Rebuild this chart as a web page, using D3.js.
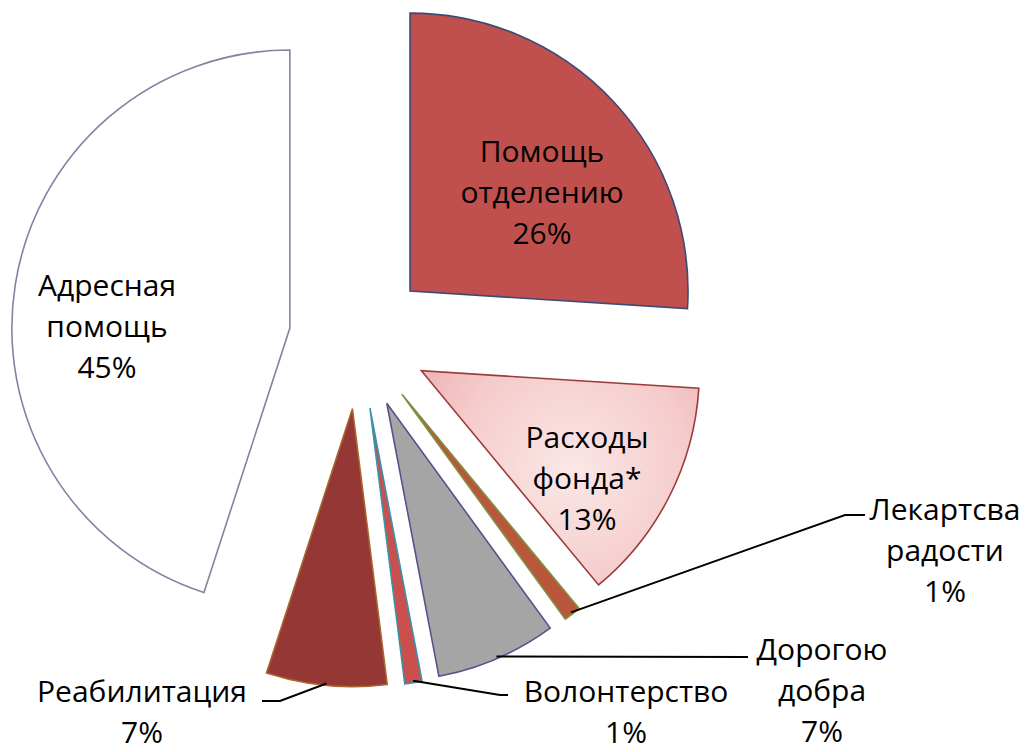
<!DOCTYPE html>
<html lang="ru">
<head>
<meta charset="UTF-8" />
<title>Pie</title>
<script src="https://d3js.org/d3.v7.min.js"></script>
<style>
  html, body { margin: 0; padding: 0; background: #fff; }
  text { font-family: "Open Sans", sans-serif; font-size: 30px; fill: #000; }
</style>
</head>
<body>
<svg id="chart" width="1029" height="752"></svg>
<script>
// Data
const categories = ["Помощь отделению", "Расходы фонда*", "Лекартсва радости", "Дорогою добра", "Волонтерство", "Реабилитация", "Адресная помощь"];
const values = [26, 13, 1, 7, 1, 7, 45];
const labelLines = [
  ["Помощь", "отделению", "26%"],
  ["Расходы", "фонда*", "13%"],
  ["Лекартсва", "радости", "1%"],
  ["Дорогою", "добра", "7%"],
  ["Волонтерство", "1%"],
  ["Реабилитация", "7%"],
  ["Адресная", "помощь", "45%"]
];

// Styles
const fills = ["#c0504d", "url(#pinkGrad)", "#b9573c", "#a5a5a5", "#c9504d", "#953735", "#ffffff"];
const strokes = ["#3b4a78", "#9b3b3b", "#7f9140", "#5e4f8c", "#3a93aa", "#a8652e", "#7d85a2"];

// Layout
const CX = 359, CY = 339, R = 278, EXPLODE = 70, LINE_H = 41;
// label anchor: [x, first baseline]
const labelPos = [[542, 162], [587, 448], [945, 520], [822, 660], [626, 702], [142, 702], [107, 296]];
// leader line points after the arc start (null = label inside slice)
const leaders = [null, null, [[845, 515], [865, 515]], [[748, 657]], [[500, 695], [508, 695]], [[280, 701], [262, 701]], null];

const svg = d3.select("#chart");

// gradient in the slice's own coordinates (apex = 0,0)
const defs = svg.append("defs");
const grad = defs.append("radialGradient")
  .attr("id", "pinkGrad")
  .attr("gradientUnits", "userSpaceOnUse")
  .attr("cx", 150).attr("cy", 100).attr("r", 210);
grad.append("stop").attr("offset", "0%").attr("stop-color", "#fbe7e7");
grad.append("stop").attr("offset", "55%").attr("stop-color", "#f5cccc");
grad.append("stop").attr("offset", "100%").attr("stop-color", "#eba9a9");

const pie = d3.pie().sort(null).startAngle(0).endAngle(2 * Math.PI);
const arcs = pie(values);
const arc = d3.arc().innerRadius(0).outerRadius(R);

const g = svg.append("g").attr("transform", `translate(${CX},${CY})`);

const mid = (d) => (d.startAngle + d.endAngle) / 2;
const off = (d, r) => [Math.sin(mid(d)) * r, -Math.cos(mid(d)) * r];

g.selectAll(".slice")
  .data(arcs)
  .enter()
  .append("path")
  .classed("slice", true)
  .attr("d", arc)
  .attr("transform", (d) => `translate(${off(d, EXPLODE)})`)
  .attr("fill", (d, i) => fills[i])
  .attr("stroke", (d, i) => strokes[i])
  .attr("stroke-width", 1.6)
  .attr("stroke-linejoin", "miter");

// Leader lines
const line = d3.line();
arcs.forEach((d, i) => {
  if (!leaders[i]) return;
  const s = off(d, EXPLODE + R - 2);
  const pts = [[CX + s[0], CY + s[1]]].concat(leaders[i]);
  svg.append("path")
    .attr("d", line(pts))
    .attr("fill", "none")
    .attr("stroke", "#000")
    .attr("stroke-width", 2);
});

// Labels
const labels = svg.selectAll(".label")
  .data(categories)
  .enter()
  .append("text")
  .classed("label", true)
  .attr("text-anchor", "middle")
  .attr("x", (d, i) => labelPos[i][0])
  .attr("y", (d, i) => labelPos[i][1]);

labels.each(function (d, i) {
  const t = d3.select(this);
  labelLines[i].forEach((s, k) => {
    t.append("tspan")
      .attr("x", labelPos[i][0])
      .attr("y", labelPos[i][1] + k * LINE_H)
      .text(s);
  });
});
</script>
</body>
</html>
